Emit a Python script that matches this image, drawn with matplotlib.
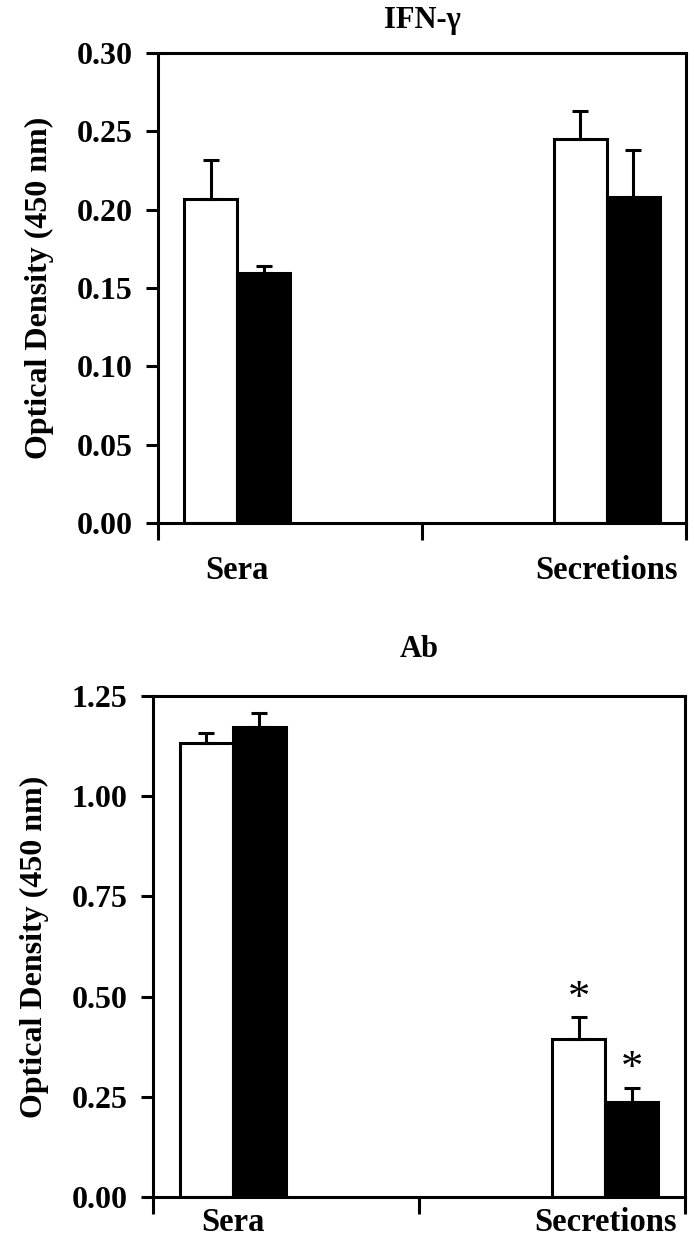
import matplotlib
matplotlib.use("Agg")
import matplotlib.pyplot as plt
import numpy as np

plt.rcParams['font.family'] = ['Liberation Serif', 'DejaVu Serif']
plt.rcParams['font.weight'] = 'bold'

groups = ["Sera", "Secretions"]
ifn_white = [0.207, 0.245]
ifn_white_err = [0.025, 0.018]
ifn_black = [0.1595, 0.208]
ifn_black_err = [0.0045, 0.030]

ab_white = [1.132, 0.394]
ab_white_err = [0.025, 0.055]
ab_black = [1.172, 0.237]
ab_black_err = [0.035, 0.035]
ab_white_sig = [False, True]
ab_black_sig = [False, True]

ifn_ticks = [0.00, 0.05, 0.10, 0.15, 0.20, 0.25, 0.30]
ab_ticks = [0.00, 0.25, 0.50, 0.75, 1.00, 1.25]

W, H = 694, 1237
fig = plt.figure(figsize=(W / 100, H / 100), dpi=100)

def px_axes(l, r, t, b):
    return fig.add_axes([l / W, (H - b) / H, (r - l) / W, (b - t) / H])

centers = np.array([0.3, 1.7])
bw = 0.2
lw = 2.2

def draw(ax, white, werr, black, berr, ticks, title, title_pad, label_pad, ymax):
    ax.bar(centers - bw / 2, white, bw, color='white', edgecolor='black', linewidth=lw, zorder=2)
    ax.bar(centers + bw / 2, black, bw, color='black', edgecolor='black', linewidth=lw, zorder=2)
    ax.errorbar(centers - bw / 2, white, yerr=[np.zeros(len(werr)), werr], fmt='none',
                ecolor='black', elinewidth=lw, capsize=6, capthick=lw, zorder=3)
    ax.errorbar(centers + bw / 2, black, yerr=[np.zeros(len(berr)), berr], fmt='none',
                ecolor='black', elinewidth=lw, capsize=6, capthick=lw, zorder=3)
    ax.set_xlim(0, 2)
    ax.set_ylim(0, ymax)
    ax.set_yticks(ticks)
    ax.set_yticklabels([f"{t:.2f}" for t in ticks], fontsize=23, fontweight='bold')
    ax.set_xticks([0, 1, 2])
    ax.set_xticklabels([])
    ax.set_xticks(centers, minor=True)
    ax.set_xticklabels(groups, minor=True, fontsize=23.5, fontweight='bold')
    ax.tick_params(axis='x', which='major', direction='out', length=12, width=lw)
    ax.tick_params(axis='x', which='minor', length=0, pad=label_pad)
    ax.tick_params(axis='y', direction='out', length=8.5, width=lw, pad=10)
    for s in ax.spines.values():
        s.set_linewidth(lw)
    ax.set_ylabel("Optical Density (450 nm)", fontsize=23, fontweight='bold', labelpad=16)
    ax.set_title(title, fontsize=22, fontweight='bold', pad=title_pad)

ax1 = px_axes(158, 686, 53, 523)
draw(ax1, ifn_white, ifn_white_err, ifn_black, ifn_black_err, ifn_ticks, "IFN-γ", 18, 23, 0.30)

ax2 = px_axes(153, 685, 696, 1197)
draw(ax2, ab_white, ab_white_err, ab_black, ab_black_err, ab_ticks, "Ab", 28, 7, 1.25)
for i in range(len(groups)):
    if ab_white_sig[i]:
        ax2.text(centers[i] - bw / 2, ab_white[i] + ab_white_err[i] + 0.045, "*",
                 ha='center', va='center', fontsize=32, fontweight='normal')
    if ab_black_sig[i]:
        ax2.text(centers[i] + bw / 2, ab_black[i] + ab_black_err[i] + 0.047, "*",
                 ha='center', va='center', fontsize=32, fontweight='normal')

fig.savefig("out.png", dpi=100)
